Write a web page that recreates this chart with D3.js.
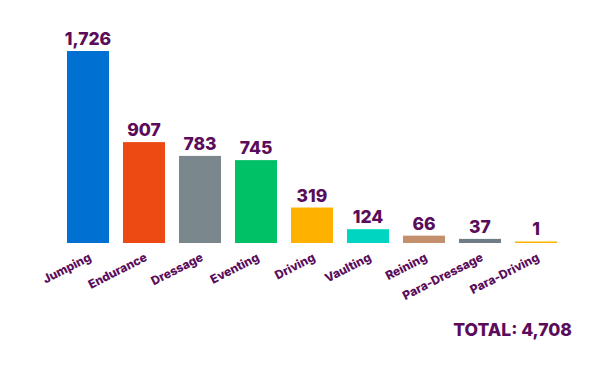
<!DOCTYPE html>
<html>
<head>
<meta charset="utf-8">
<script src="https://cdn.jsdelivr.net/npm/d3@7"></script>
<style>
  body { margin: 0; background: #fff; }
  text { font-family: Inter, "Open Sans", sans-serif; fill: #5a0d5a; }
</style>
</head>
<body>
<div id="chart"></div>
<script>
// Chart data
var categories = ["Jumping", "Endurance", "Dressage", "Eventing", "Driving", "Vaulting", "Reining", "Para-Dressage", "Para-Driving"];
var values = [1726, 907, 783, 745, 319, 124, 66, 37, 1];
var colors = ["#0070d3", "#ec4a12", "#7a878c", "#00c166", "#ffb100", "#00d5c2", "#c48f6c", "#6f7c86", "#ffb100"];
var totalLabel = "TOTAL: 4,708";

var w = 600;
var h = 365;

var svg = d3.select("#chart")
    .append("svg")
    .attr("width", w)
    .attr("height", h);

var x = d3.scaleBand()
    .domain(categories)
    .range([60, 564])
    .paddingInner(0.25)
    .paddingOuter(0.125);

var y = d3.scaleLinear()
    .domain([0, 1726])
    .range([243, 51]);

var fmt = d3.format(",");

// Bars (tiny values still get a visible sliver)
svg.selectAll("rect.bar")
    .data(values)
    .enter()
    .append("rect")
    .attr("class", "bar")
    .attr("x", function (d, i) { return x(categories[i]); })
    .attr("width", x.bandwidth())
    .attr("y", function (d) { return Math.min(y(d), y(0) - 1.5); })
    .attr("height", function (d) { return Math.max(y(0) - y(d), 1.5); })
    .style("fill", function (d, i) { return colors[i]; });

// Value labels
svg.selectAll("text.value")
    .data(values)
    .enter()
    .append("text")
    .attr("class", "value")
    .attr("x", function (d, i) { return x(categories[i]) + x.bandwidth() / 2; })
    .attr("y", function (d) { return Math.min(y(d), y(0) - 2) - 6; })
    .attr("text-anchor", "middle")
    .style("font-size", "17.5px")
    .style("font-weight", 800)
    .text(function (d) { return fmt(d); });

// Category labels, rotated
svg.selectAll("text.cat")
    .data(categories)
    .enter()
    .append("text")
    .attr("class", "cat")
    .attr("text-anchor", "end")
    .attr("transform", function (d) {
        var cx = x(d) + x.bandwidth() / 2 + 4;
        return "translate(" + cx + ",260) rotate(-27)";
    })
    .style("font-size", "12px")
    .style("font-weight", 800)
    .text(function (d) { return d; });

// Total
svg.append("text")
    .attr("x", 572)
    .attr("y", 336)
    .attr("text-anchor", "end")
    .style("font-size", "17.5px")
    .style("font-weight", 800)
    .text(totalLabel);
</script>
</body>
</html>
